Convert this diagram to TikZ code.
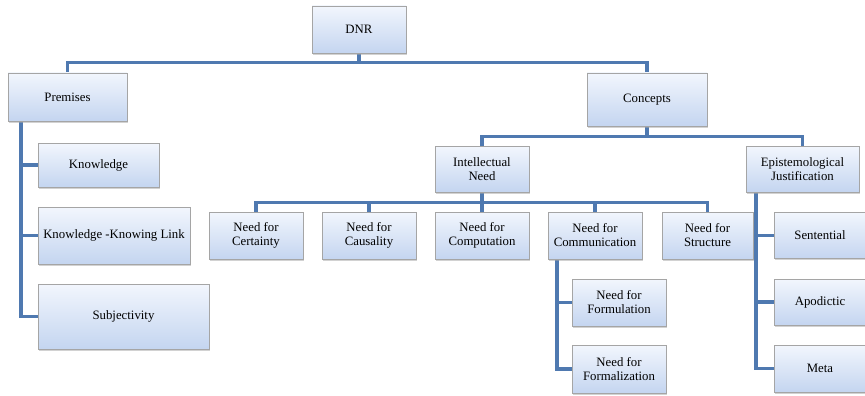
\documentclass[tikz,border=0pt]{standalone}
\usepackage{fontspec}
\setmainfont{Liberation Serif}
\usetikzlibrary{shadows,backgrounds}
\definecolor{connc}{RGB}{79,121,176}
\definecolor{boxtop}{RGB}{242,246,253}
\definecolor{boxbot}{RGB}{196,213,240}
\definecolor{boxline}{RGB}{165,165,165}
\begin{document}
\begin{tikzpicture}[x=1pt,y=-1pt,
  box/.style={draw=boxline, line width=0.8pt, top color=boxtop, bottom color=boxbot,
    drop shadow={shadow xshift=1.2pt, shadow yshift=-1.6pt, fill=black!35},
    align=center, inner sep=0pt, font=\fontsize{12.8}{14}\selectfont},
  link/.style={draw=connc, line width=3.6pt}]
\useasboundingbox (0,0) rectangle (865,396);

\node[box, minimum width=94pt, minimum height=47pt] (dnr) at (359,29.5) {DNR};
\node[box, minimum width=119pt, minimum height=48pt] (prem) at (67.5,97) {Premises};
\node[box, minimum width=120pt, minimum height=53pt] (conc) at (647,99.5) {Concepts};
\node[box, minimum width=94pt, minimum height=46pt] (intel) at (482,169) {Intellectual\\Need};
\node[box, minimum width=113pt, minimum height=46pt] (epis) at (802.5,169) {Epistemological\\Justification};

\node[box, minimum width=121pt, minimum height=44pt] (know) at (98.5,165) {Knowledge};
\node[box, minimum width=152pt, minimum height=57pt] (kkl) at (114,235.5) {Knowledge -Knowing Link};
\node[box, minimum width=171pt, minimum height=65pt] (subj) at (123.5,316.5) {Subjectivity};

\node[box, minimum width=94pt, minimum height=47pt] (cert) at (256,235.5) {Need for\\Certainty};
\node[box, minimum width=94pt, minimum height=47pt] (caus) at (369,235.5) {Need for\\Causality};
\node[box, minimum width=94pt, minimum height=47pt] (comp) at (482,235.5) {Need for\\Computation};
\node[box, minimum width=94pt, minimum height=47pt] (comm) at (595,235.5) {Need for\\Communication};
\node[box, minimum width=91pt, minimum height=47pt] (struc) at (707.5,235.5) {Need for\\Structure};

\node[box, minimum width=94pt, minimum height=47pt] (form) at (619,302.5) {Need for\\Formulation};
\node[box, minimum width=94pt, minimum height=48pt] (formz) at (619,369) {Need for\\Formalization};

\node[box, minimum width=92pt, minimum height=46pt] (sent) at (820,235.5) {Sentential};
\node[box, minimum width=92pt, minimum height=46pt] (apod) at (820,302) {Apodictic};
\node[box, minimum width=92pt, minimum height=47pt] (meta) at (820,368.5) {Meta};

\begin{scope}[on background layer]
\draw[link] (prem.north) -- ++(0,-10) -| (conc.north);
\draw[link] (dnr.south) -- ++(0,10);
\draw[link] (intel.north) -- ++(0,-9) -| (epis.north);
\draw[link] (conc.south) -- ++(0,11);
\draw[link] (cert.north) -- ++(0,-9) -| (struc.north);
\draw[link] (caus.north) -- ++(0,-9);
\draw[link] (comm.north) -- ++(0,-9);
\draw[link] (intel.south) -- (comp.north);
\coordinate (pv) at ([xshift=-46.5pt]prem.south);
\draw[link] (pv) |- (subj.west);
\draw[link] (pv) |- (know.west);
\draw[link] (pv) |- (kkl.west);
\coordinate (cv) at ([xshift=-38pt]comm.south);
\draw[link] (cv) |- (formz.west);
\draw[link] (cv) |- (form.west);
\coordinate (ev) at ([xshift=-46.5pt]epis.south);
\draw[link] (ev) |- (meta.west);
\draw[link] (ev) |- (sent.west);
\draw[link] (ev) |- (apod.west);
\end{scope}
\end{tikzpicture}
\end{document}
